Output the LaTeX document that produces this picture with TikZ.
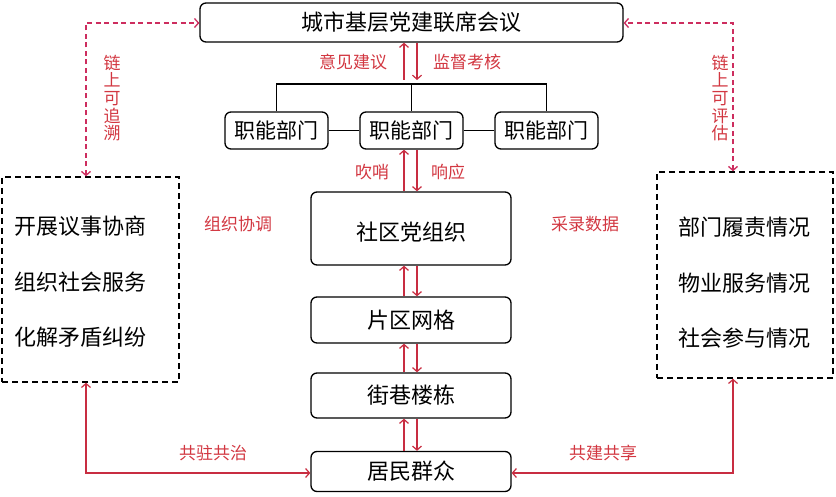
\documentclass[tikz,border=0pt]{standalone}
\usepackage{fontspec}
\setmainfont{Noto Sans CJK SC}
\usetikzlibrary{arrows.meta}
\definecolor{rd}{RGB}{200,45,65}
\definecolor{pk}{RGB}{205,45,95}
\definecolor{lt}{RGB}{210,55,65}
\begin{document}
\begin{tikzpicture}[x=1pt,y=-1pt,
  box/.style={draw, rounded corners=6pt, line width=1.3pt, inner sep=0pt, font=\fontsize{22}{22}\selectfont},
  fbox/.style={box, minimum width=103pt, minimum height=37pt, font=\fontsize{21}{21}\selectfont},
  dbox/.style={draw, line width=1.4pt, dash pattern=on 6pt off 4pt, inner sep=0pt},
  item/.style={anchor=west, inner sep=0pt, font=\fontsize{22}{22}\selectfont},
  lbl/.style={text=lt, inner sep=0pt, font=\fontsize{17}{17}\selectfont},
  vlbl/.style={lbl, align=center, font=\fontsize{17}{17.6}\selectfont},
  bline/.style={draw, line width=1.4pt},
  rarr/.style={draw=rd, line width=1.2pt, -{Straight Barb[length=4pt,width=9pt]}},
  rarr2/.style={draw=rd, line width=1.2pt, {Straight Barb[length=4pt,width=9pt]}-{Straight Barb[length=4pt,width=9pt]}},
  darr/.style={draw=pk, line width=1.3pt, dash pattern=on 5pt off 3.5pt, {Straight Barb[length=4pt,width=9pt]}-{Straight Barb[length=4pt,width=9pt]}}
]
\useasboundingbox (0,0) rectangle (836,497);
% main boxes
\node[box, minimum width=423pt, minimum height=39pt] (top) at (411.5,22.5) {城市基层党建联席会议};
\node[fbox] (f1) at (276.5,130.5) {职能部门};
\node[fbox] (f2) at (411.5,130.5) {职能部门};
\node[fbox] (f3) at (546.5,130.5) {职能部门};
\node[box, minimum width=200pt, minimum height=73pt] (sq) at (411,228.5) {\raisebox{-4pt}[\height][\depth]{社区党组织}};
\node[box, minimum width=200pt, minimum height=46pt] (pq) at (411,320) {片区网格};
\node[box, minimum width=200pt, minimum height=45pt] (jx) at (411,395.5) {街巷楼栋};
\node[box, minimum width=200pt, minimum height=40pt] (jm) at (411,471.5) {居民群众};
% dashed side boxes
\node[dbox, minimum width=177pt, minimum height=205pt] (L) at (90.5,279.5) {};
\node[dbox, minimum width=176pt, minimum height=206pt] (R) at (745,275) {};
\node[item] (l1) at (14,226) {开展议事协商};
\node[item] (l2) at (14,282) {组织社会服务};
\node[item] (l3) at (14,337) {化解矛盾纠纷};
\node[item] (r1) at (678,227) {部门履责情况};
\node[item] (r2) at (678,283) {物业服务情况};
\node[item] (r3) at (678,338) {社会参与情况};
% bus lines
\coordinate (bus) at (411,84);
\draw[bline] (f1.north) -- (f1.north |- bus) -- (f3.north |- bus) -- (f3.north);
\draw[bline] (f2.north) -- (f2.north |- bus);
\draw[bline] (f1.east) -- (f2.west);
\draw[bline] (f2.east) -- (f3.west);
% vertical red arrows
\coordinate (xu) at (404,80);
\coordinate (xd) at (417,80);
\draw[rarr] (xu) -- (xu |- top.south);
\draw[rarr] (xd |- top.south) -- (xd);
\draw[rarr] (xu |- sq.north) -- (xu |- f2.south);
\draw[rarr] (xd |- f2.south) -- (xd |- sq.north);
\draw[rarr] (xu |- pq.north) -- (xu |- sq.south);
\draw[rarr] (xd |- sq.south) -- (xd |- pq.north);
\draw[rarr] (xu |- jx.north) -- (xu |- pq.south);
\draw[rarr] (xd |- pq.south) -- (xd |- jx.north);
\draw[rarr] (xu |- jm.north) -- (xu |- jx.south);
\draw[rarr] (xd |- jx.south) -- (xd |- jm.north);
% bottom connectors
\coordinate (cl) at (86,473);
\coordinate (cr) at (733,473);
\draw[rarr2] (cl |- L.south) -- (cl) -- (cl -| jm.west);
\draw[rarr2] (cr |- R.south) -- (cr) -- (cr -| jm.east);
% dashed connectors
\coordinate (dl) at (86,23);
\coordinate (dr) at (733,23);
\draw[darr] (dl |- L.north) -- (dl) -- (dl -| top.west);
\draw[darr] (dr |- R.north) -- (dr) -- (dr -| top.east);
% labels
\node[lbl] (t1) at (353,62) {意见建议};
\node[lbl] (t2) at (467,62) {监督考核};
\node[lbl] (t3) at (372,172) {吹哨};
\node[lbl] (t4) at (448,172) {响应};
\node[lbl] (t5) at (238,224) {组织协调};
\node[lbl] (t6) at (585,224) {采录数据};
\node[lbl] (t7) at (213,453) {共驻共治};
\node[lbl] (t8) at (603,453) {共建共享};
\node[vlbl] (v1) at (112,98) {链\\上\\可\\追\\溯};
\node[vlbl] (v2) at (720,98) {链\\上\\可\\评\\估};
\end{tikzpicture}
\end{document}
